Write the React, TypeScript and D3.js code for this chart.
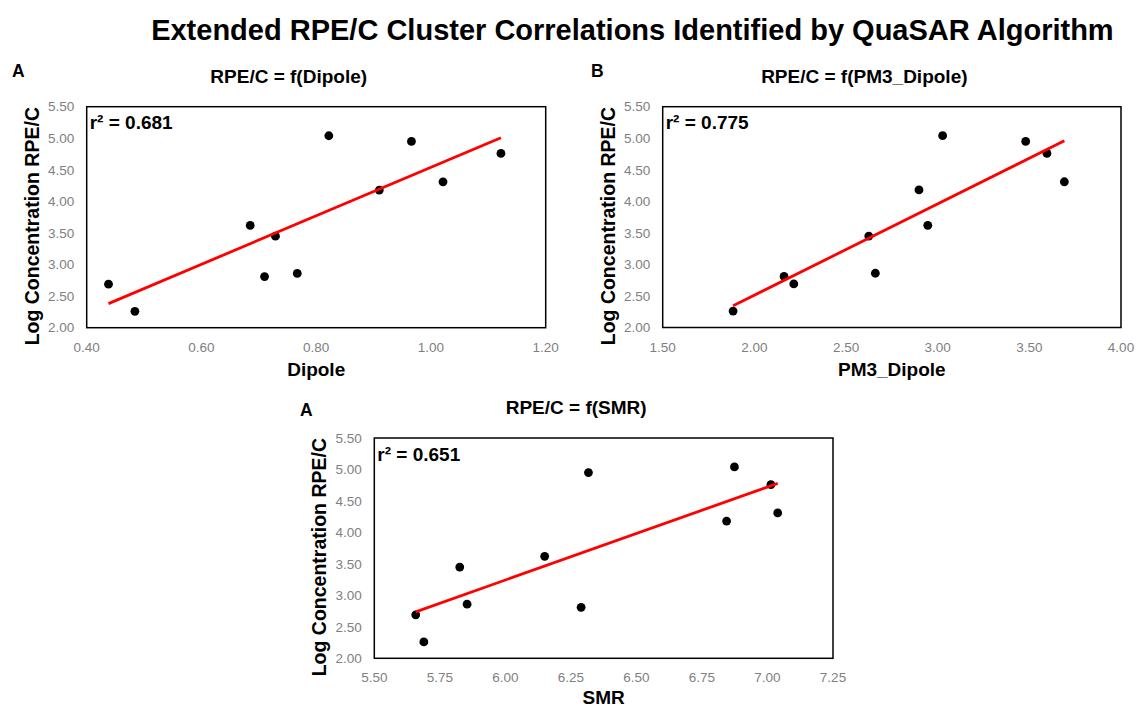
import React from "react";
import * as d3 from "d3";

// ---- Data ----
// Log concentration RPE/C per compound (same compounds in all three panels)
const logConc = [2.26, 2.69, 2.81, 2.86, 3.45, 3.62, 4.18, 4.31, 4.76, 4.95, 5.04];
// Descriptor values per compound
const dipole = [0.484, 0.438, 0.71, 0.767, 0.729, 0.685, 0.91, 1.021, 1.122, 0.966, 0.822];
const pm3Dipole = [1.884, 2.215, 2.162, 2.66, 2.624, 2.946, 2.898, 3.691, 3.596, 3.48, 3.027];
const smr = [5.689, 5.658, 6.289, 5.854, 5.826, 6.15, 6.844, 7.039, 7.013, 6.317, 6.874];

const yTicks = [2.0, 2.5, 3.0, 3.5, 4.0, 4.5, 5.0, 5.5];
const dipoleTicks = [0.4, 0.6, 0.8, 1.0, 1.2];
const pm3Ticks = [1.5, 2.0, 2.5, 3.0, 3.5, 4.0];
const smrTicks = [5.5, 5.75, 6.0, 6.25, 6.5, 6.75, 7.0, 7.25];

const panelLetters = ["A", "B", "A"];
const panelTitles = ["RPE/C = f(Dipole)", "RPE/C = f(PM3_Dipole)", "RPE/C = f(SMR)"];
const xTitles = ["Dipole", "PM3_Dipole", "SMR"];
const r2Labels = ["r² = 0.681", "r² = 0.775", "r² = 0.651"];
const yTitle = "Log Concentration RPE/C";
const mainTitle = "Extended RPE/C Cluster Correlations Identified by QuaSAR Algorithm";

const xSeries = [dipole, pm3Dipole, smr];
const xTickSets = [dipoleTicks, pm3Ticks, smrTicks];

// ---- Layout ----
const boxes = [
  { x0: 86.7, x1: 545.7, y0: 106.7, y1: 327.7, letterX: 12, letterY: 77, subY: 82.7, xTitleY: 376 },
  { x0: 662.7, x1: 1121, y0: 106.7, y1: 327.5, letterX: 591, letterY: 77, subY: 82.7, xTitleY: 376 },
  { x0: 374.3, x1: 833, y0: 438, y1: 658.3, letterX: 300, letterY: 415.5, subY: 414, xTitleY: 704 },
];

const BOLD = "Arial, 'Liberation Sans', sans-serif";
const TICKFONT = "'Liberation Sans', Arial, sans-serif";

function fit(xs: number[], ys: number[]) {
  const mx = d3.mean(xs) as number;
  const my = d3.mean(ys) as number;
  let sxy = 0, sxx = 0;
  xs.forEach((x, i) => {
    sxy += (x - mx) * (ys[i] - my);
    sxx += (x - mx) * (x - mx);
  });
  const b = sxy / sxx;
  const a = my - b * mx;
  return (x: number) => a + b * x;
}

function Panel({ idx }: { idx: number }) {
  const box = boxes[idx];
  const xs = xSeries[idx];
  const ticks = xTickSets[idx];
  const x = d3.scaleLinear().domain([ticks[0], ticks[ticks.length - 1]]).range([box.x0, box.x1]);
  const y = d3.scaleLinear().domain([2, 5.5]).range([box.y1, box.y0]);
  const f = fit(xs, logConc);
  const ext = d3.extent(xs) as [number, number];
  const line = d3.line<number>().x((d) => x(d)).y((d) => y(f(d)));
  const cx = (box.x0 + box.x1) / 2;
  const cy = (box.y0 + box.y1) / 2;
  return (
    <g>
      <text x={box.letterX} y={box.letterY} fontFamily={BOLD} fontWeight="bold" fontSize={17.5} fill="#000">
        {panelLetters[idx]}
      </text>
      <text x={cx - 27.5} y={box.subY} textAnchor="middle" fontFamily={BOLD} fontWeight="bold" fontSize={19} fill="#000">
        {panelTitles[idx]}
      </text>
      <rect x={box.x0} y={box.y0} width={box.x1 - box.x0} height={box.y1 - box.y0} fill="#fff" stroke="#000" strokeWidth={1.5} />
      {yTicks.map((t) => (
        <text key={"y" + t} x={box.x0 - 12.5} y={y(t)} dy="0.35em" textAnchor="end" fontFamily={TICKFONT} fontSize={13.5} fill="#808080">
          {t.toFixed(2)}
        </text>
      ))}
      {ticks.map((t) => (
        <text key={"x" + t} x={x(t)} y={box.y1 + 24} textAnchor="middle" fontFamily={TICKFONT} fontSize={13.5} fill="#808080">
          {t.toFixed(2)}
        </text>
      ))}
      {xs.map((v, i) => (
        <circle key={i} cx={x(v)} cy={y(logConc[i])} r={4.4} fill="#000" />
      ))}
      <path d={line(ext) || ""} fill="none" stroke="#ff0000" strokeWidth={2.8} />
      <text x={box.x0 + 3} y={box.y0 + 22.6} fontFamily={BOLD} fontWeight="bold" fontSize={19} fill="#000">
        {r2Labels[idx]}
      </text>
      <text x={cx} y={box.xTitleY} textAnchor="middle" fontFamily={BOLD} fontWeight="bold" fontSize={19} fill="#000">
        {xTitles[idx]}
      </text>
      <text
        transform={`translate(${box.x0 - 48},${cy + 9}) rotate(-90)`}
        textAnchor="middle"
        fontFamily={BOLD}
        fontWeight="bold"
        fontSize={19.5}
        fill="#000"
      >
        {yTitle}
      </text>
    </g>
  );
}

export default function App() {
  return (
    <svg width={1136} height={708} style={{ position: "absolute", left: 0, top: 0, background: "#fff" }}>
      <rect x={0} y={0} width={1136} height={708} fill="#fff" />
      <text x={632.4} y={40} textAnchor="middle" fontFamily={BOLD} fontWeight="bold" fontSize={29} fill="#000">
        {mainTitle}
      </text>
      {boxes.map((_, i) => (
        <Panel key={i} idx={i} />
      ))}
    </svg>
  );
}
